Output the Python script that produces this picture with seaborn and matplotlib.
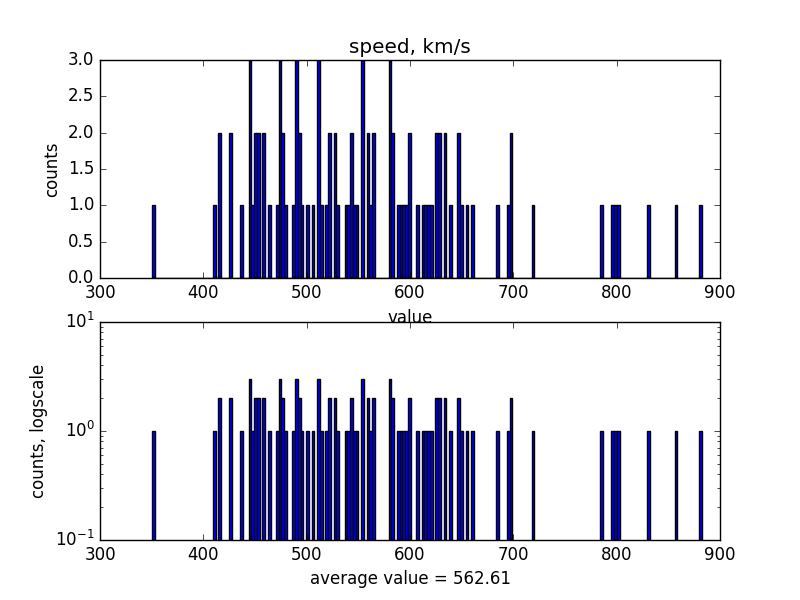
import numpy as np
import pandas as pd
import matplotlib
matplotlib.use("Agg")
import matplotlib.pyplot as plt
import seaborn as sns

# Speed values (km/s), with how many samples sit in each bar
speed_values = [351.9, 410.5, 415.8, 426.4, 437.1, 445.0, 447.7, 450.4, 453.0, 458.3,
                463.7, 471.6, 474.3, 477.0, 479.6, 487.6, 490.3, 492.9, 495.6, 500.9,
                506.2, 511.6, 514.2, 519.5, 522.2, 527.5, 530.2, 538.2, 540.8, 543.5,
                546.1, 548.8, 554.1, 559.5, 562.1, 564.8, 580.7, 583.4, 588.7, 591.4,
                594.0, 596.7, 599.4, 607.3, 612.7, 615.3, 618.0, 620.6, 626.0, 628.6,
                633.9, 639.3, 647.3, 649.9, 655.2, 660.6, 684.5, 695.1, 697.8, 719.1,
                785.6, 796.2, 798.9, 801.6, 830.8, 857.4, 881.4]
speed_counts = [1, 1, 2, 2, 1, 3, 1, 2, 2, 2,
                1, 1, 3, 2, 1, 1, 3, 2, 1, 1,
                1, 3, 1, 1, 2, 2, 1, 1, 1, 2,
                1, 1, 3, 2, 1, 2, 3, 2, 1, 1,
                1, 1, 2, 1, 1, 1, 1, 1, 2, 2,
                2, 1, 2, 1, 1, 1, 1, 1, 2, 1,
                1, 1, 1, 1, 1, 1, 1]
average_value = 562.61

df = pd.DataFrame({"speed": speed_values, "count": speed_counts})

# old-school matplotlib look
plt.style.use("classic")
fig = plt.figure(figsize=(8, 6), dpi=100, facecolor="white")

hist_kws = dict(data=df, x="speed", weights="count", bins=200,
                binrange=(350.6, 882.7), color="#0000ff", alpha=1,
                edgecolor="black", linewidth=1)

# Top: linear counts
ax1 = fig.add_subplot(211)
sns.histplot(ax=ax1, **hist_kws)
ax1.set_xlim(300, 900)
ax1.set_ylim(0, 3)
ax1.set_title("speed, km/s")
ax1.set_xlabel("value")
ax1.set_ylabel("counts")

# Bottom: log counts
ax2 = fig.add_subplot(212)
sns.histplot(ax=ax2, **hist_kws)
ax2.set_yscale("log")
ax2.set_xlim(300, 900)
ax2.set_ylim(0.1, 10)
ax2.set_xlabel(f"average value = {average_value:.2f}")
ax2.set_ylabel("counts, logscale")

fig.savefig("out.png", dpi=100, facecolor="white")
